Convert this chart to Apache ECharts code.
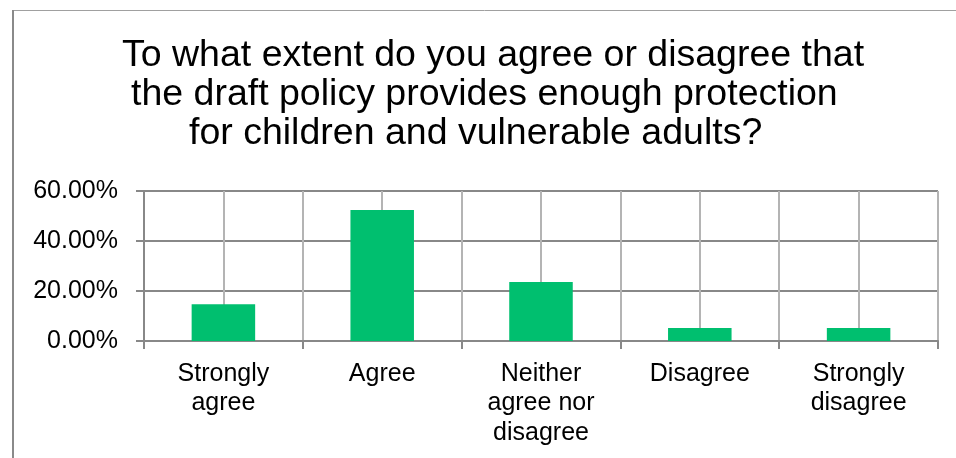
<!DOCTYPE html>
<html>
<head>
<meta charset="utf-8">
<script src="https://cdn.jsdelivr.net/npm/echarts@6/dist/echarts.min.js"></script>
<style>
html,body{margin:0;padding:0;background:#fff;}
#chart{width:956px;height:458px;}
</style>
</head>
<body>
<div id="chart"></div>
<script>
const titleLines = [
  'To what extent do you agree or disagree that',
  'the draft policy provides enough protection',
  'for children and vulnerable adults?'
];
const categories = ['Strongly\nagree', 'Agree', 'Neither\nagree nor\ndisagree', 'Disagree', 'Strongly\ndisagree'];
const values = [0.147, 0.524, 0.236, 0.052, 0.052];
const yTicks = { min: 0, max: 0.6, interval: 0.2 };

const FONT = '"Liberation Sans", Arial, sans-serif';
const chart = echarts.init(document.getElementById('chart'), null, { renderer: 'canvas' });

const titleTops = [36, 75, 114];
const titleLefts = [122, 131, 189];

const option = {
  animation: false,
  backgroundColor: '#ffffff',
  title: titleLines.map((t, i) => ({
    text: t,
    left: titleLefts[i],
    top: titleTops[i],
    padding: 0,
    textStyle: { fontFamily: FONT, fontSize: 37.5, fontWeight: 'normal', color: '#000', lineHeight: 39 }
  })),
  graphic: [
    { type: 'line', shape: { x1: 13, y1: 10.5, x2: 956, y2: 10.5 }, style: { stroke: '#a0a0a0', lineWidth: 1 }, silent: true },
    { type: 'line', shape: { x1: 13, y1: 10, x2: 13, y2: 458 }, style: { stroke: '#8a8a8a', lineWidth: 2 }, silent: true }
  ],
  grid: { left: 144, right: 18, top: 191, bottom: 117, containLabel: false },
  xAxis: [
    {
      type: 'category',
      data: categories,
      boundaryGap: true,
      axisLine: { show: true, lineStyle: { color: '#888', width: 2 } },
      axisTick: { show: true, length: 8, lineStyle: { color: '#888', width: 2 } },
      splitLine: { show: false },
      axisLabel: { margin: 18, fontFamily: FONT, fontSize: 25, color: '#000', lineHeight: 29.5, interval: 0 }
    },
    {
      type: 'value',
      position: 'top',
      min: 0, max: 10, interval: 1,
      axisLine: { show: false },
      axisTick: { show: false },
      axisLabel: { show: false },
      splitLine: { show: true, lineStyle: { color: '#b4b4b4', width: 2 } }
    }
  ],
  yAxis: {
    type: 'value',
    min: yTicks.min, max: yTicks.max, interval: yTicks.interval,
    axisLine: { show: true, lineStyle: { color: '#888', width: 2 } },
    axisTick: { show: true, length: 8, lineStyle: { color: '#888', width: 2 } },
    splitLine: { show: true, lineStyle: { color: '#888', width: 2 } },
    axisLabel: {
      margin: 26, fontFamily: FONT, fontSize: 25, color: '#000',
      padding: [6, 0, 0, 0],
      formatter: v => (v * 100).toFixed(2) + '%'
    }
  },
  series: [{
    type: 'bar',
    xAxisIndex: 0,
    data: values,
    barWidth: '40%',
    itemStyle: { color: '#00BF6F' },
    z: 3
  }]
};
chart.setOption(option);
</script>
</body>
</html>
